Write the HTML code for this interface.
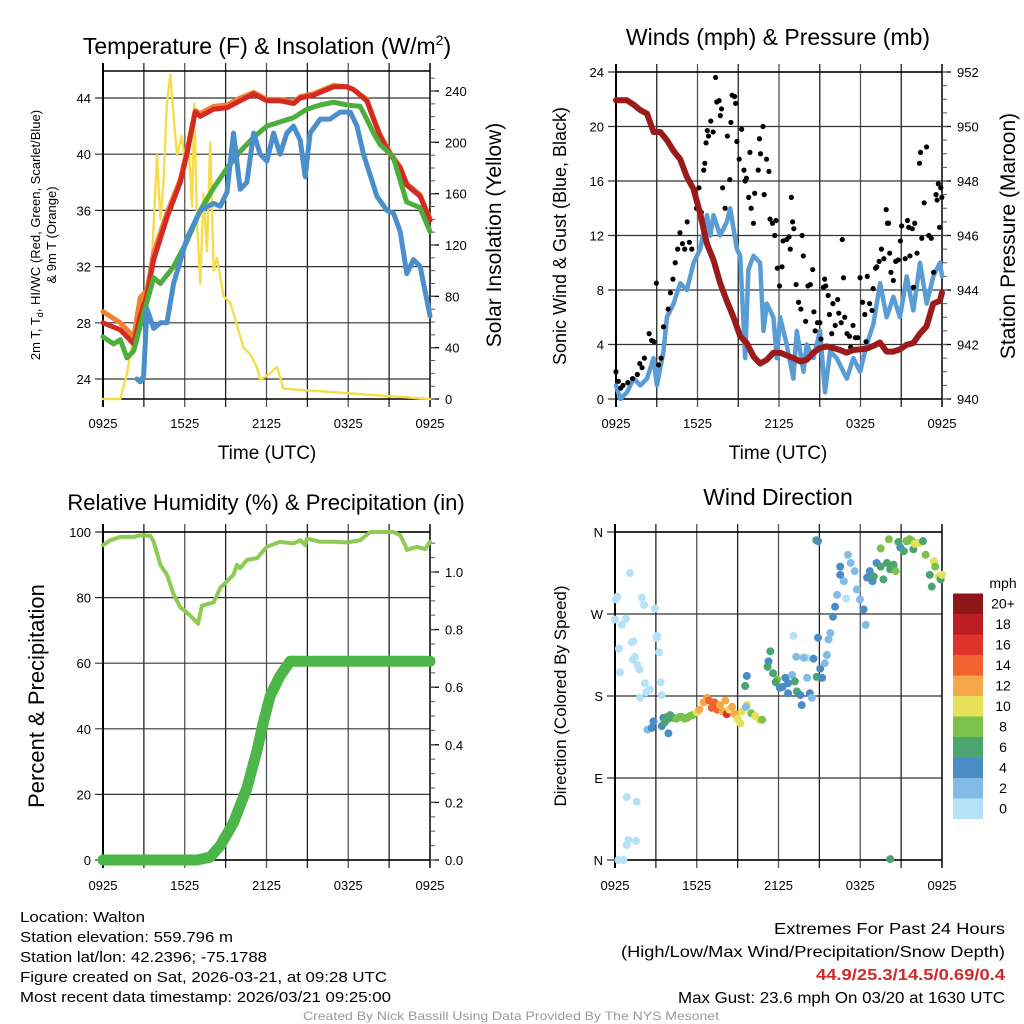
<!DOCTYPE html>
<html><head><meta charset="utf-8"><title>Walton Meteogram</title>
<style>
html,body{margin:0;padding:0;background:#fff;}
svg{display:block;font-family:"Liberation Sans",sans-serif;}
</style></head>
<body>
<svg id="chart" width="1024" height="1024" viewBox="0 0 1024 1024" xmlns="http://www.w3.org/2000/svg"></svg>
<script>
// ---------- DATA ----------
const timeTickLabels = ["0925","1525","2125","0325","0925"];
// Temperature panel (hours since 0925 UTC)
const tempT  = [0,1.27,2.25,2.74,3.23,3.72,4.7,5.67,6.16,6.77,7.14,8.12,9.1,10.07,11.05,12.03,13.0,14.0,14.47,15.45,16.43,16.92,17.9,18.39,19.36,19.85,20.33,21.07,21.81,22.3,23.28,24];
const tempRed= [28,27.5,26.5,28.5,30,32.5,35.5,38,40,43,42.7,43.2,43.3,43.8,44.3,43.8,43.8,43.6,44,44.2,44.6,44.8,44.8,44.6,43.8,42.5,41.3,40,39,37.8,37,35.3];
const tempOrange=[28.8,28,27,29.8,30.3,33,35.8,38.2,40.2,43.1,42.9,43.4,43.5,44,44.4,43.9,43.9,43.7,44.1,44.3,44.7,44.9,44.8,44.6,43.9,42.6,41.4,40.1,39.1,37.9,37.1,35.4];
const greenT = [0,0.78,1.27,1.76,2.25,2.74,3.23,3.72,4.21,5.18,6.16,7.14,8.12,9.1,10.07,11.05,12.03,13.0,13.98,14.96,15.94,16.92,17.9,18.88,19.36,19.85,20.33,21.3,22.28,23.26,24];
const greenV = [27,26.5,26.8,25.5,26,27.8,29.5,31.2,30.8,32,33.8,36,37.6,39,40.2,41.2,42,42.3,42.6,43.2,43.5,43.7,43.5,43.4,42.5,41.5,40.7,39.8,36.6,36.2,34.5];
const dewT   = [2.49,2.74,2.98,3.23,3.72,4.21,4.69,5.18,6.16,7.14,8.12,8.61,9.1,9.58,10.07,10.56,11.05,11.54,12.03,12.52,13.0,13.49,13.98,14.47,14.84,15.2,15.94,16.67,17.41,18.15,18.64,19.12,19.61,20.1,20.83,21.32,21.81,22.3,22.79,23.28,24];
const dewV   = [24,23.8,24.2,29,27.6,28,28,30.8,34,36,36.5,36.3,37.3,41.5,37.5,38,41.5,40,39.5,41.5,40,41.5,42,41,38.4,41.5,42.5,42.5,43,43,42,40,38.5,37,36,35.8,34.5,31.5,32.5,32,28.5];
const solarT = [0,1.27,1.76,2.25,2.74,2.98,3.23,3.6,3.96,4.21,4.45,4.69,4.94,5.18,5.43,5.79,6.04,6.28,6.53,6.7,6.89,7.14,7.38,7.63,7.87,8.12,8.36,8.85,9.34,10.31,10.8,11.29,11.54,12.27,12.76,13.25,24];
const solarV = [0,0,20,50,80,70,90,110,190,140,170,230,253,220,190,205,180,200,150,230,140,90,160,115,200,100,110,80,75,40,35,25,15,20,25,8,0];
// Wind panel
const windT = [0,.32,.81,1.3,1.79,2.28,2.77,3.01,3.5,3.75,4.24,4.73,5.22,5.71,6.2,6.69,6.94,7.18,7.67,8.16,8.41,8.9,9.14,9.51,9.75,10.12,10.61,10.86,11.1,11.59,11.84,12.08,12.57,13.06,13.31,13.8,14.04,14.53,15.02,15.39,15.76,16.25,16.74,16.99,17.48,17.97,18.46,18.95,19.44,19.93,20.42,20.91,21.4,21.89,22.38,22.87,23.36,23.85,24];
const windV = [1,0,0.5,1.5,1,1.5,3,1,3.5,6,7,8.5,8,10,11,13.5,12,13.5,12,13,14,11,10.5,3,9.5,10.5,10,5,7,6,3,6,4,1.5,5,2,4,3,5,0.5,3.5,3,2,1.5,3,2,4,5.5,8.5,6,7.5,6,9,6.5,10,7,9,10,9];
const gustT = [0,0.17,0.35,0.52,0.87,1.22,1.57,1.75,1.92,2.09,2.44,2.62,2.79,2.97,3.14,3.32,3.49,3.84,4.01,4.19,4.36,4.54,4.71,4.89,5.06,5.24,5.41,5.58,5.93,6.11,6.28,6.46,6.54,6.63,6.72,6.81,6.98,7.15,7.33,7.42,7.59,7.68,7.77,7.85,8.03,8.2,8.38,8.46,8.55,8.73,8.81,8.9,9.07,9.25,9.42,9.51,9.6,9.77,9.86,9.95,10.12,10.21,10.47,10.56,10.64,10.82,10.91,11.08,11.26,11.34,11.52,11.69,11.78,11.87,12.04,12.22,12.3,12.56,12.74,12.83,12.91,13.0,13.09,13.26,13.44,13.61,13.7,13.79,13.96,14.13,14.31,14.48,14.57,14.66,14.83,15.01,15.09,15.27,15.36,15.44,15.62,15.71,15.88,15.97,16.14,16.32,16.4,16.58,16.66,16.75,16.84,17.01,17.19,17.28,17.45,17.62,17.8,17.97,18.15,18.32,18.41,18.5,18.67,18.85,18.93,19.11,19.2,19.37,19.54,19.72,19.89,19.98,20.07,20.15,20.24,20.42,20.59,20.77,20.94,21.03,21.29,21.46,21.55,21.64,21.81,21.9,21.99,22.16,22.34,22.42,22.51,22.69,22.86,23.03,23.21,23.38,23.56,23.64,23.73,23.82,23.91,23.99];
const gustV = [2,1.3,0.8,1,1.2,1.5,1.8,2.6,2.3,3,4.8,4.3,4.2,8.5,2.5,3,5.3,6.6,7.8,8.8,10,11,12.2,11.4,11,13,11.5,11,14,15.5,13.7,16.8,17.3,18.8,19.7,19.3,20.4,19.6,23.6,21.8,21.9,20.8,21.3,15.5,14,19.3,16.1,20.3,22.3,22.2,21.7,18.9,17.6,19.8,16.8,16,16.2,14.8,18.1,14,12.9,15.1,16.8,19.1,18,20,15,17.6,16.7,13.2,12.9,12,13.1,9.6,8.3,9.7,11.6,11.7,11.9,11,14.8,13,12.5,8.4,7.1,6.6,12,10.5,5.7,8.3,8.4,9.5,6.4,5,5.6,5.6,4.4,8.2,8.8,8.3,7.6,6.2,4.8,7,5.4,7.3,6.3,5.6,11.7,8.9,6,4.8,4.6,3.8,5.4,4.5,4.5,8.9,7.1,6.2,4.2,9,7,6.5,8.1,9.6,9.7,10.1,11,10.3,13.9,12.9,12.9,10.7,9.3,8.7,10.1,10.2,11.6,12.7,10.3,13.1,12.6,10.5,12.5,8.2,12.9,10.7,17.3,18.1,11.8,14.4,18.5,12,11.8,9.3,15,14.6,15.8,12.6,15.5,14.8];
const presT = [0,0.81,1.3,1.79,2.28,2.77,3.26,3.75,4.24,4.73,5.22,5.71,6.2,6.69,7.18,7.67,8.16,8.65,9.14,9.63,10.12,10.61,11.1,11.59,12.08,12.57,13.06,13.55,14.04,14.53,15.02,15.51,16.0,16.49,16.98,17.47,17.96,18.45,18.94,19.43,19.92,20.41,20.9,21.39,21.88,22.37,22.86,23.35,23.84,24];
const presV = [950.96,950.96,950.8,950.6,950.47,949.8,949.8,949.5,949.1,948.8,948.15,947.7,946.8,945.7,945.1,944.25,943.6,943.0,942.3,942.05,941.56,941.3,941.44,941.7,941.7,941.6,941.5,941.38,941.44,941.7,941.87,941.93,941.87,941.8,941.7,941.8,941.82,941.85,941.95,942.07,941.74,941.74,941.82,941.99,942.05,942.4,942.66,943.5,943.6,943.9];
// RH / precip panel
const rhT = [0,.54,1.27,2.25,2.74,3.47,3.72,4.21,4.69,5.18,5.67,6.16,6.65,6.97,7.26,7.63,8.12,8.61,9.1,9.58,9.83,10.07,10.56,11.3,12.03,13.0,13.98,14.47,14.84,14.96,15.94,16.92,17.9,18.88,19.61,21.32,21.81,22.18,22.3,23.03,23.64,24];
const rhV = [96,97.5,98.5,98.5,99,98.8,97,90,87,81,77,75.5,73.5,72,77.5,78,78.5,83,85,87,90,89,91.5,92,95.5,97,96.5,97.5,96,98,97,97,96.8,97.5,100,100,99,96,94.5,95.5,94.8,97];
const pcpT = [0,6.9,7.87,8.61,9.58,10.56,11.3,11.78,12.27,13.0,13.74,24];
const pcpV = [0,0,0.01,0.05,0.13,0.25,0.38,0.48,0.57,0.64,0.69,0.69];
// Wind direction panel
const dirT = [0.07,0.17,0,0.29,0.37,0.81,0.49,1.1,1.22,1.35,1.47,1.3,1.65,1.8,1.96,2.13,2.94,3.06,3.1,3.23,2.2,2.28,1.84,2.57,3.35,3.43,0.86,1.59,0.98,0.86,1.54,0.25,0.61,13.1,16.97,13.96,14.1,
 2.38,2.7,2.82,3.55,3.92,3.43,3.65,3.9,3.8,4.05,4.3,4.5,4.75,4.9,5.1,5.3,5.5,5.7,
 6.0,6.2,6.5,6.75,6.9,7.1,7.3,7.5,7.7,7.9,8.1,8.2,8.4,8.6,8.8,9.0,9.2,9.3,9.7,10.0,10.3,10.6,10.8,9.67,9.55,9.6,
 11.4,11.27,11.6,11.9,12.1,12.5,12.7,13.0,13.2,13.35,13.6,13.7,14.1,14.3,14.45,14.57,14.8,14.9,15.06,15.2,15.4,15.55,15.67,15.8,16.0,16.15,16.3,16.53,16.53,16.8,17.1,17.3,17.6,17.75,17.98,18.25,18.4,18.5,18.7,18.9,19.2,19.0,19.5,19.7,19.96,20.2,20.45,20.6,20.94,21.2,21.4,21.6,21.9,22.1,22.35,22.6,22.8,23.1,23.4,23.5,23.75,23.9,23.25,24,19.5,20.1,20.8,14.77,14.9,20.2,13.3,13.85,12.7,21.45,21.75,22.0,11.2,11.8,12.3];
const dirDeg = [286,289,264,232,206,265,258,315,239,240,223,220,214,209,288,280,276,244,246,228,194,184,178,187,195,181,69,64,22,16.5,21,0,0,246,287,222,222,
 143,145,152,156,139,147,151,155,157,159,156,155,157,157,155,156,158,159,
 162,165,173,178,175,167,173,165,170,163,175,160,165,168,160,155,150,163,170,161,158,154,154,202,191,168,
 229,218,205,198,189,200,183,203,196,185,181,170,200,183,178,221,201,244,210,200,216,225,242,249,267,278,291,313,322,306,335,326,317,297,286,275,258,310,317,306,326,311,322,308,326,319,324,317,343,339,350,352,341,348,348,350,335,313,328,322,311,308,300,313,342,352,349,351,350,1,223,222,194,350,351,347,212,195,190];
const dirSpd = [1,1,1,1,1,1,1,1,1,1,1,1,1,1,1,1,1,1,1,1,1,1,1,1,1,1,1,1,1,1,1,1,1,1,1,1,1,
 3,4,5,5,5,4,6,6,7,7,7,8,8,9,8,8,8,9,
 10,12,12,13,14,14,15,14,12,12,12,16,11,13,12,10,10,10,10,9,10,11,9,5,7,3,
 6,5,7,8,5,5,4,3,7,6,4,4,3,4,3,5,6,5,5,5,3,3,3,3,4,5,3,4,5,3,3,3,3,3,3,5,3,5,4,5,4,6,6,6,7,6,6,8,5,6,7,8,6,10,10,7,8,6,10,8,10,7,6,10,8,8,6,6,5,6,3,3,5,8,9,11,6,7,5];
const legendLabels = ["0","2","4","6","8","10","12","14","16","18","20+"];
const legendColors = ["#b5e2f7","#82bce6","#4a8dc6","#4aa56e","#7bc24a","#e6e05a","#f6a848","#ef6330","#dd3329","#bc1c24","#8e1519"];

// ---------- RENDER ----------
const svg = document.getElementById('chart');
const NS = "http://www.w3.org/2000/svg";
function mk(tag, attrs, parent){ const e=document.createElementNS(NS,tag); for(const k in attrs) e.setAttribute(k,attrs[k]); (parent||svg).appendChild(e); return e; }
function txt(s, attrs, parent){ const e=mk('text',attrs,parent); e.textContent=s; return e; }

function panel(name, x0, x1, y0, y1){
  const g = mk('g',{});
  
  
  const xs = h => x0 + (x1-x0)*h/24;
  return {g, x0, x1, y0, y1, xs};
}
function lin(d0,d1,p0,p1){ return v => p0 + (v-d0)*(p1-p0)/(d1-d0); }

function grid(P, yTicks, ys, labels, bottomLabelsY){
  const gg = mk('g',{},P.g);
  
  
  for(let i=1;i<8;i++){ const x=P.x0+(P.x1-P.x0)*i/8; mk('line',{x1:x,x2:x,y1:P.y0-8,y2:P.y1+8,stroke:i%2?'#222':'#555','stroke-width':1.3},gg); }
  yTicks.forEach(v=>{ const y=ys(v); mk('line',{x1:P.x0-8,x2:P.x1,y1:y,y2:y,stroke:'#333','stroke-width':1.2},gg); });
  mk('line',{x1:P.x0,x2:P.x0,y1:P.y0-8,y2:P.y1+8,stroke:'#000','stroke-width':2},gg);
  mk('line',{x1:P.x1,x2:P.x1,y1:P.y0-8,y2:P.y1+8,stroke:'#000','stroke-width':1.5},gg);
  mk('line',{x1:P.x0,x2:P.x1,y1:P.y0,y2:P.y0,stroke:'#000','stroke-width':1.5},gg);
  mk('line',{x1:P.x0,x2:P.x1,y1:P.y1,y2:P.y1,stroke:'#000','stroke-width':1.5},gg);
  timeTickLabels.forEach((s,i)=>{
    const t=txt(s,{x:P.x0+(P.x1-P.x0)*i/4,y:bottomLabelsY,'text-anchor':'middle','font-size':13},P.g);
    
    
  });
  labels.forEach((s,i)=>{
    const t=txt(s,{x:P.x0-12,y:ys(yTicks[i])+5,'text-anchor':'end','font-size':13},P.g);
    
    
  });
}
function rightAxis(P, ticks, ys2, fmt, minorStep){
  const g = mk('g',{},P.g);
  
  
  ticks.forEach(v=>{ const y=ys2(v); mk('line',{x1:P.x1,x2:P.x1+9,y1:y,y2:y,stroke:'#000','stroke-width':1.3},g);
    const t=txt(fmt(v),{x:P.x1+15,y:y+5,'font-size':13},g);
    
     });
  for(let v=ticks[0]; v<=ticks[ticks.length-1]+minorStep*5; v+=minorStep){ const y=ys2(v); if(y<P.y0-1) break; mk('line',{x1:P.x1,x2:P.x1+5,y1:y,y2:y,stroke:'#555','stroke-width':1},g); }
}
function line(P, T, V, ys, color, w, name, breakGap){
  let d='';
  for(let i=0;i<T.length;i++){ const brk = i===0 || (breakGap && T[i]-T[i-1]>breakGap); d += (brk?'M':'L')+P.xs(T[i]).toFixed(1)+','+ys(V[i]).toFixed(1); }
  const p = mk('path',{d,fill:'none',stroke:color,'stroke-width':w,'stroke-linejoin':'round','stroke-linecap':'round'},P.g);
  
  
  return p;
}
function rotText(s,x,y,size,name){
  const t=txt(s,{x:0,y:0,'text-anchor':'middle','font-size':size,transform:`translate(${x},${y}) rotate(-90)`});
  
  
  return t;
}
function title(s,x,y,size,name){ const t=txt(s,{x,y,'text-anchor':'middle','font-size':size});   return t; }

// Panel 1: Temperature
const P1 = panel('temperature-panel',103,430,71,399);
const ty = lin(24,44,379,98);
const sy = lin(0,240,399,91);
grid(P1,[24,28,32,36,40,44],ty,["24","28","32","36","40","44"],428);
rightAxis(P1,[0,40,80,120,160,200,240],sy,v=>String(v),10);
line(P1,solarT,solarV,sy,'#f7dc4a',2.4,'solar-insolation-line');
line(P1,tempT,tempOrange,ty,'#f0812e',5,'9m-temperature-line');
line(P1,tempT,tempRed,ty,'#d42a24',5,'temperature-line');
line(P1,greenT,greenV,ty,'#4cae3c',5,'heat-index-wind-chill-line');
line(P1,dewT,dewV,ty,'#4a8fcb',5,'dewpoint-line');
const t1 = txt('',{x:267,y:54,'text-anchor':'middle','font-size':23});


t1.innerHTML='Temperature (F) &amp; Insolation (W/m<tspan dy="-9" font-size="14">2</tspan><tspan dy="9">)</tspan>';
title('Time (UTC)',267,459,19,'x-axis-title');
const yt = txt('',{x:0,y:0,'text-anchor':'middle','font-size':13,transform:'translate(40,235) rotate(-90)'});


yt.innerHTML='2m T, T<tspan dy="3" font-size="9">d</tspan><tspan dy="-3">, HI/WC (Red, Green, Scarlet/Blue)</tspan>';
rotText('& 9m T (Orange)',56,235,13,'temperature-y-axis-title-line2');
rotText('Solar Insolation (Yellow)',501,235,21,'solar-y-axis-title');

// Panel 2: Winds
const P2 = panel('wind-panel',616,942,72,399);
const wy = lin(0,24,399,72);
const py = lin(940,952,399,72);
grid(P2,[0,4,8,12,16,20,24],wy,["0","4","8","12","16","20","24"],428);
rightAxis(P2,[940,942,944,946,948,950,952],py,v=>String(v),0.5);
line(P2,windT,windV,wy,'#5a9cd4',4.5,'sustained-wind-line');
const gg = mk('g',{},P2.g);


gustT.forEach((t,i)=>{ const c=mk('circle',{cx:P2.xs(t),cy:wy(gustV[i]),r:2.6,fill:'#000'},gg);
  
   });
line(P2,presT,presV,py,'#9b1b1b',6,'station-pressure-line');
title('Winds (mph) & Pressure (mb)',778,45,23,'wind-title');
title('Time (UTC)',778,459,19,'wind-x-axis-title');
rotText('Sonic Wind & Gust (Blue, Black)',566,236,18,'wind-y-axis-title');
rotText('Station Pressure (Maroon)',1015,236,21,'pressure-y-axis-title');

// Panel 3: RH & Precip
const P3 = panel('humidity-panel',103,430,532,860);
const ry = lin(0,100,860,532);
const qy = lin(0,1,860,572);
grid(P3,[0,20,40,60,80,100],ry,["0","20","40","60","80","100"],890);
rightAxis(P3,[0,0.2,0.4,0.6,0.8,1.0],qy,v=>v.toFixed(1),0.05);
line(P3,pcpT,pcpV,qy,'#4cb648',11,'precipitation-line');
line(P3,rhT,rhV,ry,'#8ecb52',4,'relative-humidity-line');
title('Relative Humidity (%) & Precipitation (in)',266,510,22,'humidity-title');
rotText('Percent & Precipitation',44,696,22,'humidity-y-axis-title');

// Panel 4: Wind direction
const P4 = panel('wind-direction-panel',615,942,532,860);
const dy = lin(0,360,860,532);
grid(P4,[0,90,180,270,360],dy,["N","E","S","W","N"],890);
const dg = mk('g',{},P4.g);


dirT.forEach((t,i)=>{ const bin=Math.min(10,Math.floor(dirSpd[i]/2)); const c=mk('circle',{cx:P4.xs(t),cy:dy(dirDeg[i]),r:4,fill:legendColors[bin]},dg);
  
   });
title('Wind Direction',778,505,23,'direction-title');
rotText('Direction (Colored By Speed)',566,696,17,'direction-y-axis-title');
const lg = mk('g',{});


const lt = txt('mph',{x:1003,y:588,'text-anchor':'middle','font-size':14},lg);


legendColors.forEach((c,i)=>{
  const y = 819 - (i+1)*20.5;
  const r=mk('rect',{x:953,y:y,width:30,height:20.5,fill:c},lg);
  
  
  const t=txt(legendLabels[i],{x:1003,y:y+15,'text-anchor':'middle','font-size':14},lg);
  
  
});

// Footer text
const leftLines=[["Location: Walton",125],["Station elevation: 559.796 m",213],["Station lat/lon: 42.2396; -75.1788",247],["Figure created on Sat, 2026-03-21, at 09:28 UTC",367],["Most recent data timestamp: 2026/03/21 09:25:00",371]];
leftLines.forEach((l,i)=>{ const t=txt(l[0],{x:20,y:922+i*20,'font-size':15,textLength:l[1],lengthAdjust:'spacingAndGlyphs'});
  
   });
const rightLines=[["Extremes For Past 24 Hours",231,'#000','normal'],["(High/Low/Max Wind/Precipitation/Snow Depth)",384,'#000','normal'],["44.9/25.3/14.5/0.69/0.4",189,'#d02a2a','bold'],["Max Gust: 23.6 mph On 03/20 at 1630 UTC",327,'#000','normal']];
rightLines.forEach((l,i)=>{ const t=txt(l[0],{x:1005-l[1],y:934+i*23,'font-size':16,fill:l[2],'font-weight':l[3],textLength:l[1],lengthAdjust:'spacingAndGlyphs'});
  
   });
const cr=txt('Created By Nick Bassill Using Data Provided By The NYS Mesonet',{x:303,y:1020,'font-size':12,fill:'#999',textLength:416,lengthAdjust:'spacingAndGlyphs'});


</script>
</body></html>
